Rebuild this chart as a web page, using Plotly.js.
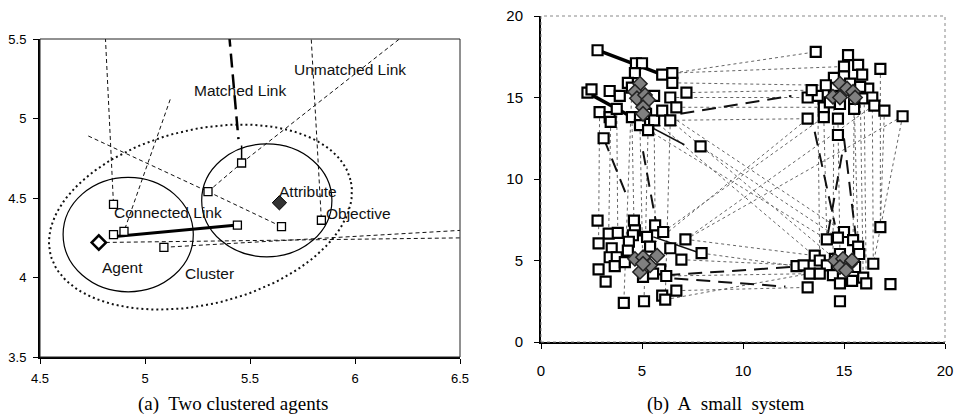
<!DOCTYPE html>
<html><head><meta charset="utf-8">
<script src="https://cdn.plot.ly/plotly-3.0.1.min.js"></script>
<style>body{margin:0;background:#fff}#g{width:957px;height:419px}</style>
</head><body><div id="g"></div>
<script>
// ---------- Panel (a) data ----------
const aSqX = [4.85, 4.85, 4.90, 5.09, 5.30, 5.46, 5.44, 5.65, 5.84];
const aSqY = [4.46, 4.27, 4.29, 4.19, 4.54, 4.72, 4.33, 4.32, 4.36];
const agentX = [4.78], agentY = [4.22];
const attrX = [5.64], attrY = [4.47];
// dashed (unmatched) links: x0,y0,x1,y1
const aDashX0 = [4.81, 5.12, 4.73, 5.30, 5.30, 5.46, 5.79, 4.78, 5.09];
const aDashY0 = [5.55, 5.12, 4.89, 4.54, 4.54, 4.72, 5.54, 4.22, 4.19];
const aDashX1 = [4.85, 4.90, 5.30, 5.65, 5.46, 6.25, 5.84, 6.55, 6.55];
const aDashY1 = [4.46, 4.29, 4.54, 4.32, 4.72, 5.54, 4.36, 4.25, 4.30];
const matchedX = [5.40, 5.445], matchedY = [5.54, 4.87];
const matchedTailX = [5.46, 5.46], matchedTailY = [4.83, 4.72];
const connectedX = [4.87, 5.44], connectedY = [4.26, 4.33];
// circles: x0,x1,y0,y1
const circX0 = [4.61, 5.27], circX1 = [5.23, 5.89];
const circY0 = [3.91, 4.13], circY1 = [4.63, 4.84];
// tilted dotted ellipse: centre x, centre y, semi-axes (x units, y units), tilt deg
const ellCentre = [5.264, 4.38], ellAxes = [0.736, 0.549], ellTilt = [13.9];
const aLabels = ["Unmatched Link", "Matched Link", "Attribute", "Connected Link", "Objective", "Agent", "Cluster"];
const aLabX = [5.976, 5.451, 5.775, 5.108, 6.019, 4.894, 5.305];
const aLabY = [5.311, 5.179, 4.54, 4.41, 4.404, 4.062, 4.026];
const aTicksX = [4.5, 5, 5.5, 6, 6.5], aTickTextX = ["4.5", "5", "5.5", "6", "6.5"];
const aTicksY = [3.5, 4, 4.5, 5, 5.5], aTickTextY = ["3.5", "4", "4.5", "5", "5.5"];

// ---------- Panel (b) data ----------
const tlSqX = [2.8,4.7,5.0,4.65,6.0,6.5,6.5,2.3,2.5,3.4,4.3,3.9,4.5,5.6,6.4,7.2,2.9,3.4,3.75,3.45,4.5,4.9,5.2,5.6,6.0,6.4,6.7,4.9,5.3,3.1,7.9];
const tlSqY = [17.9,17.1,17.1,16.5,16.4,16.5,15.9,15.3,15.5,15.4,15.9,15.1,15.6,15.1,15.0,15.3,14.1,13.8,14.3,13.5,13.8,13.8,14.0,13.6,14.2,13.6,14.4,13.3,13.0,12.5,12.0];
const trSqX = [13.6,15.2,15.7,15.9,15.0,14.5,15.0,14.1,15.3,16.2,15.8,13.7,13.2,13.4,16.0,16.4,16.8,14.5,15.5,14.0,14.3,14.8,15.5,16.5,17.0,17.9,13.2,14.0,14.7,14.7];
const trSqY = [17.8,17.6,17.0,16.4,16.9,16.2,16.3,15.75,15.85,15.55,15.65,15.1,15.0,15.45,14.95,15.0,16.75,15.1,14.9,14.4,14.7,14.6,14.3,14.5,14.2,13.85,13.7,13.8,13.7,12.7];
const blSqX = [2.8,4.6,5.65,4.65,6.05,3.35,3.8,4.55,5.25,2.85,3.5,4.35,5.4,6.4,3.4,3.75,4.3,7.15,7.95,6.95,2.85,3.65,4.15,5.9,6.2,6.7,3.2,4.1,5.1,6.0,6.15,5.05,5.55];
const blSqY = [7.45,7.45,7.15,6.85,6.75,6.65,6.7,6.55,6.45,6.05,5.75,6.15,5.85,5.75,5.2,5.2,5.6,6.3,5.45,5.05,4.45,4.65,4.9,4.45,4.05,3.15,3.7,2.4,2.5,2.85,2.6,4.0,4.2];
const brSqX = [15.0,15.45,14.15,14.7,15.7,13.55,13.8,14.55,14.8,14.15,12.65,13.0,13.3,13.8,14.45,14.8,15.4,15.95,16.1,16.45,16.8,17.3,13.2,14.8,15.75,15.55];
const brSqY = [6.75,6.25,6.3,6.4,5.85,5.3,5.0,5.1,5.4,4.7,4.65,4.7,4.2,4.2,4.1,3.6,3.75,3.95,3.6,4.8,7.05,3.55,3.35,2.5,5.4,4.6];
const tlDiaX = [4.9,4.65,4.75,5.15,5.3,5.05,5.05], tlDiaY = [15.85,15.35,14.95,15.15,14.85,14.4,14.0];
const trDiaX = [14.8,15.15,14.45,14.8,15.45,15.55], trDiaY = [15.85,15.55,15.05,15.0,15.35,15.0];
const blDiaX = [4.65,5.05,5.75,4.9,5.4,5.05], blDiaY = [5.1,5.2,5.3,4.3,4.7,4.8];
const brDiaX = [14.55,14.95,15.3,14.8,15.1,15.4], brDiaY = [5.0,5.1,4.8,4.6,4.4,5.0];
// gray dashed links
const gX0 = [2.9,3.45,3.75,4.5,4.5,4.9,5.3,5.6,6.4, 13.7,14.0,14.5,14.7,15.5,15.5,15.8,16.0,16.8,17.9,16.4,17.0, 6.5,6.5,6.0,7.2,6.4,6.7,6.4, 7.15,7.95,6.95,6.7,6.15,6.2, 6.4,5.6,6.0,5.3,7.9,6.05,7.15,6.4,5.4];
const gY0 = [14.1,13.5,14.3,13.8,15.6,13.3,13.0,13.6,13.6, 15.1,13.8,15.1,13.7,14.3,14.9,15.65,14.95,16.75,13.85,15.0,14.2, 16.5,15.9,16.4,15.3,15.0,14.4,13.6, 6.3,5.45,5.05,3.15,2.6,4.05, 13.6,13.6,14.2,13.0,12.0,6.75,6.3,5.75,5.85];
const gX1 = [2.85,3.35,3.8,4.6,4.1,5.05,5.1,5.65,6.15, 13.8,14.15,14.45,14.8,15.45,15.7,15.95,16.1,16.8,16.45,16.45,16.8, 15.0,14.1,13.6,13.4,13.2,14.0,13.2, 13.55,12.65,13.0,13.2,13.3,13.8, 14.55,13.8,15.0,14.15,14.7,14.0,16.45,17.9,13.2];
const gY1 = [6.05,6.65,6.7,7.45,2.4,4.0,2.5,7.15,2.6, 5.0,6.3,4.1,5.4,6.25,5.85,3.95,3.6,7.05,4.8,4.8,7.05, 16.9,15.75,17.8,15.45,15.0,14.4,13.7, 5.3,4.65,4.7,3.35,4.2,4.2, 5.1,5.0,6.75,6.3,6.4,13.8,14.5,13.85,13.7];
// solid black links (thick)
const sX0 = [2.8,2.3], sY0 = [17.9,15.3], sX1 = [6.0,4.5], sY1 = [16.4,13.8];
// solid black links (thin)
const tX0 = [4.5,5.56], tY0 = [13.8,6.45], tX1 = [7.1,7.9], tY1 = [12.1,5.45];
// long-dash black links
const lX0 = [3.1,5.05,6.9,13.55,15.0,14.9,6.2,6.6];
const lY0 = [12.5,11.7,14.0,12.9,12.5,11.5,4.1,3.9];
const lX1 = [4.3,5.7,12.4,14.55,15.6,14.2,12.4,12.1];
const lY1 = [8.8,7.3,15.1,7.2,6.3,6.6,4.6,3.4];
const bTicks = [0, 5, 10, 15, 20], bTickText = ["0", "5", "10", "15", "20"];

// ---------- helpers ----------
function segs(x0, y0, x1, y1) {
  const xs = [], ys = [];
  for (let i = 0; i < x0.length; i++) { xs.push(x0[i], x1[i], null); ys.push(y0[i], y1[i], null); }
  return {x: xs, y: ys};
}
function lineTrace(s, xa, ya, color, width, dash) {
  return {type: 'scatter', mode: 'lines', x: s.x, y: s.y, xaxis: xa, yaxis: ya,
    line: {color: color, width: width, dash: dash}, hoverinfo: 'skip', showlegend: false};
}
function markTrace(x, y, xa, ya, marker) {
  return {type: 'scatter', mode: 'markers', x: x, y: y, xaxis: xa, yaxis: ya, marker: marker,
    hoverinfo: 'skip', showlegend: false, cliponaxis: false};
}
// ellipse outline (shape geometry from its parameters; pixel aspect of panel a)
const pxPerX = 420 / 2, pxPerY = 318 / 2;
const ell = {x: [], y: []};
{
  const th = ellTilt[0] * Math.PI / 180;
  const A = ellAxes[0] * pxPerX, B = ellAxes[1] * pxPerY;
  for (let k = 0; k <= 120; k++) {
    const t = 2 * Math.PI * k / 120;
    const u = A * Math.cos(t), v = B * Math.sin(t);
    ell.x.push(ellCentre[0] + (u * Math.cos(th) - v * Math.sin(th)) / pxPerX);
    ell.y.push(ellCentre[1] + (u * Math.sin(th) + v * Math.cos(th)) / pxPerY);
  }
}

const traces = [];
// panel a
traces.push(lineTrace(ell, 'x', 'y', '#111', 2, '2px,3px'));
traces.push(lineTrace(segs(aDashX0, aDashY0, aDashX1, aDashY1), 'x', 'y', '#111', 1, '4px,3px'));
traces.push(lineTrace({x: matchedX, y: matchedY}, 'x', 'y', '#000', 2.5, '14px,7px'));
traces.push(lineTrace({x: matchedTailX, y: matchedTailY}, 'x', 'y', '#000', 1.5, 'solid'));
traces.push(lineTrace({x: connectedX, y: connectedY}, 'x', 'y', '#000', 3, 'solid'));
traces.push(markTrace(aSqX, aSqY, 'x', 'y', {symbol: 'square', size: 8, color: '#fff', line: {color: '#000', width: 1.3}}));
traces.push(markTrace(agentX, agentY, 'x', 'y', {symbol: 'diamond', size: 11, color: '#fff', line: {color: '#000', width: 2.5}}));
traces.push(markTrace(attrX, attrY, 'x', 'y', {symbol: 'diamond', size: 11, color: '#333', line: {color: '#000', width: 1}}));
// panel b
traces.push(lineTrace(segs(gX0, gY0, gX1, gY1), 'x2', 'y2', '#666', 1, '3px,3px'));
traces.push(lineTrace(segs(lX0, lY0, lX1, lY1), 'x2', 'y2', '#111', 2, '14px,8px'));
traces.push(lineTrace(segs(tX0, tY0, tX1, tY1), 'x2', 'y2', '#111', 1.5, 'solid'));
traces.push(lineTrace(segs(sX0, sY0, sX1, sY1), 'x2', 'y2', '#000', 3.5, 'solid'));
const sqMarker = {symbol: 'square', size: 10, color: '#fff', line: {color: '#000', width: 2.2}};
const diaMarker = {symbol: 'diamond', size: 11, color: '#808080', line: {color: '#222', width: 1.5}};
[[tlSqX, tlSqY], [trSqX, trSqY], [blSqX, blSqY], [brSqX, brSqY]].forEach(p => traces.push(markTrace(p[0], p[1], 'x2', 'y2', sqMarker)));
[[tlDiaX, tlDiaY], [trDiaX, trDiaY], [blDiaX, blDiaY], [brDiaX, brDiaY]].forEach(p => traces.push(markTrace(p[0], p[1], 'x2', 'y2', diaMarker)));

const tickFont = {family: 'Liberation Sans, Arial, sans-serif', size: 13, color: '#000'};
const tickFontB = {family: 'Liberation Sans, Arial, sans-serif', size: 15, color: '#000'};
const shapes = [];
for (let i = 0; i < circX0.length; i++) {
  shapes.push({type: 'circle', xref: 'x', yref: 'y', x0: circX0[i], x1: circX1[i], y0: circY0[i], y1: circY1[i], line: {color: '#000', width: 1.2}});
}
shapes.push({type: 'rect', xref: 'x domain', yref: 'y domain', x0: 0, x1: 1, y0: 0, y1: 1, line: {color: '#222', width: 1}});
shapes.push({type: 'rect', xref: 'x2 domain', yref: 'y2 domain', x0: 0, x1: 1, y0: 0, y1: 1, line: {color: '#888', width: 1, dash: 'dot'}});

const annotations = aLabels.map((t, i) => ({text: t, x: aLabX[i], y: aLabY[i], xref: 'x', yref: 'y', showarrow: false,
  font: {family: 'Liberation Sans, Arial, sans-serif', size: 15.5, color: '#111'}}));
annotations.push({text: '(a)\u00a0 Two clustered agents', xref: 'paper', yref: 'paper', x: 233 / 957, y: 1 - 404 / 419,
  xanchor: 'center', yanchor: 'middle', showarrow: false,
  font: {family: 'Liberation Serif, Times New Roman, serif', size: 19, color: '#000'}});
annotations.push({text: '(b)\u00a0 A\u00a0 small\u00a0 system', xref: 'paper', yref: 'paper', x: 725 / 957, y: 1 - 404 / 419,
  xanchor: 'center', yanchor: 'middle', showarrow: false,
  font: {family: 'Liberation Serif, Times New Roman, serif', size: 19, color: '#000'}});

const layout = {
  width: 957, height: 419, autosize: false, margin: {l: 0, r: 0, t: 0, b: 0},
  paper_bgcolor: '#fff', plot_bgcolor: '#fff', showlegend: false,
  xaxis: {domain: [40 / 957, 460 / 957], range: [4.5, 6.5], tickvals: aTicksX, ticktext: aTickTextX, showgrid: false, zeroline: false,
    showline: true, linecolor: '#000', linewidth: 2, ticks: 'outside', ticklen: 5, tickcolor: '#000', tickfont: tickFont, ticklabelstandoff: 3, anchor: 'y'},
  yaxis: {domain: [1 - 357 / 419, 1 - 39 / 419], range: [3.5, 5.5], tickvals: aTicksY, ticktext: aTickTextY, showgrid: false, zeroline: false,
    showline: true, linecolor: '#000', linewidth: 2, ticks: 'outside', ticklen: 5, tickcolor: '#000', tickfont: tickFont, ticklabelstandoff: 4, anchor: 'x'},
  xaxis2: {domain: [541 / 957, 945 / 957], range: [0, 20], tickvals: bTicks, ticktext: bTickText, showgrid: false, zeroline: false,
    showline: true, linecolor: '#000', linewidth: 2, ticks: 'outside', ticklen: 5, tickcolor: '#000', tickfont: tickFontB, ticklabelstandoff: 9, anchor: 'y2'},
  yaxis2: {domain: [1 - 342 / 419, 1 - 16 / 419], range: [0, 20], tickvals: bTicks, ticktext: bTickText, showgrid: false, zeroline: false,
    showline: true, linecolor: '#000', linewidth: 2, ticks: 'outside', ticklen: 5, tickcolor: '#000', tickfont: tickFontB, ticklabelstandoff: 8, anchor: 'x2'},
  shapes: shapes, annotations: annotations
};
Plotly.newPlot('g', traces, layout, {staticPlot: true, displayModeBar: false});
</script></body></html>
